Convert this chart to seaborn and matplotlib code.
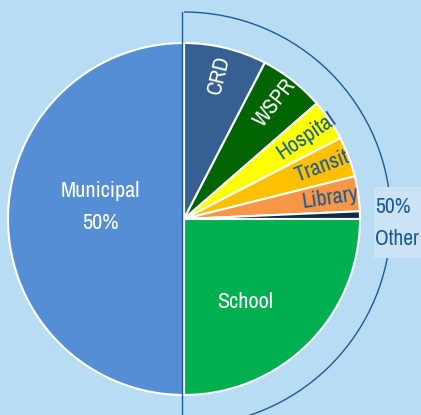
import numpy as np
import matplotlib
matplotlib.use("Agg")
import matplotlib.pyplot as plt
from matplotlib import font_manager
import seaborn as sns
from matplotlib.patches import Arc, Rectangle

# ================= DADOS =================
categorias = ["CRD", "WSPR", "Hospital", "Transit", "Library", "", "School", "Municipal"]
valores = [7.6, 6.0, 3.8, 3.7, 3.2, 0.7, 25.0, 50.0]
cores = ["#376092", "#006400", "#ffff00", "#ffc000", "#f79646", "#10284a", "#00b050", "#558ed5"]
cor_rotulo = ["white", "white", "#1a5a96", "#1a5a96", "#1a5a96", None, "white", "white"]
texto_outros = "50%\nOther"

FUNDO = "#b8dcf4"
AZUL_ESCURO = "#1a5a96"

sns.set_theme(style="white")

# procura uma fonte estreita (o original usa uma condensada)
familia, esticar = "Roboto", "normal"
for f in font_manager.fontManager.ttflist:
    if "Narrow" in f.name or "Condensed" in f.name:
        familia, esticar = f.name, "normal"
        break
    if f.name == "DejaVu Sans" and f.stretch == "condensed":
        familia, esticar = "DejaVu Sans", "condensed"
plt.rcParams["font.family"] = [familia, "DejaVu Sans"]
plt.rcParams["font.stretch"] = esticar

fig = plt.figure(figsize=(4.21, 4.15), dpi=100, facecolor=FUNDO)
ax = fig.add_axes([0, 0, 1, 1])
ax.set_facecolor(FUNDO)

wedges, _ = ax.pie(valores, colors=cores, startangle=90, counterclock=False,
                   radius=1.0, wedgeprops=dict(edgecolor="white", linewidth=1.5))

# rótulos das fatias pequenas, girados ao longo do raio
for w, nome, cor in zip(wedges[:5], categorias[:5], cor_rotulo[:5]):
    ang = (w.theta1 + w.theta2) / 2
    r = 0.84
    ax.text(r * np.cos(np.radians(ang)), r * np.sin(np.radians(ang)), nome,
            rotation=ang, rotation_mode="anchor", ha="center", va="center",
            color=cor, fontsize=16)

ax.text(0.347, -0.47, "School", ha="center", va="center", color="white", fontsize=16)
ax.text(-0.477, 0.068, "Municipal\n50%", ha="center", va="center", color="white",
        fontsize=16, linespacing=1.8)

# colchete semicircular em volta da metade "Other"
R = 1.176
ax.add_patch(Arc((0, 0), 2 * R, 2 * R, theta1=-90, theta2=90, color=AZUL_ESCURO, lw=1.0, zorder=5))
ax.plot([-0.01, -0.01], [-R, R], color=AZUL_ESCURO, lw=1.0, zorder=5)

ax.add_patch(Rectangle((1.08, -0.222), 0.4, 0.404, facecolor="#cce3f5", edgecolor="none", zorder=6))
ax.text(1.088, -0.023, texto_outros, ha="left", va="center", color=AZUL_ESCURO,
        fontsize=15.5, linespacing=1.7, zorder=7)

ax.set_xlim(-184 / 176, (421 - 184) / 176)
ax.set_ylim(-(415 - 219) / 176, 219 / 176)
ax.set_aspect("equal")
ax.axis("off")

fig.savefig("out.png", dpi=100, facecolor=FUNDO)
